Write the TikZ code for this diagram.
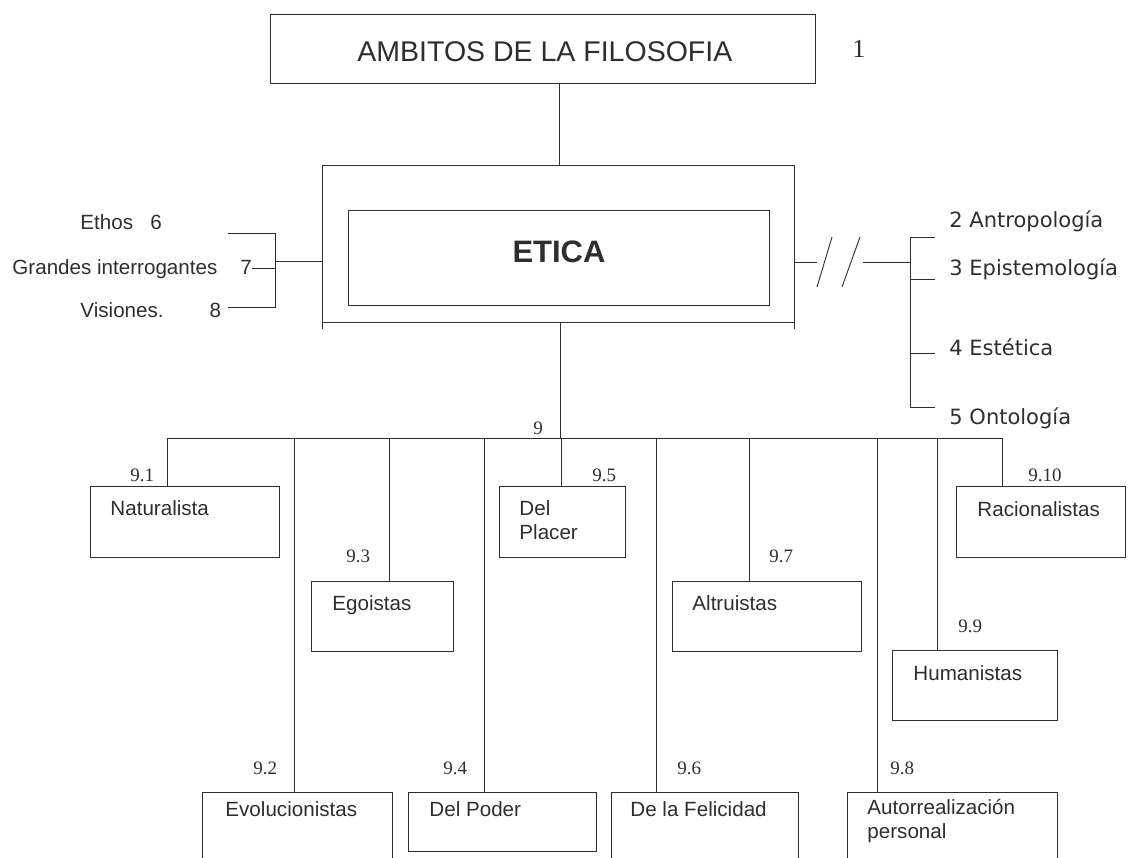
\documentclass[tikz,border=0pt]{standalone}
\usepackage{fontspec}
\setmainfont{Liberation Sans}
\newfontfamily\serifnum{Liberation Serif}
\newfontfamily\verdanaish{DejaVu Sans}

\definecolor{ink}{gray}{0.18}

\tikzset{
  box/.style={draw, rectangle, inner sep=0pt, anchor=north west},
  txt/.style={anchor=base west, inner sep=0pt, align=left, font=\fontsize{20.6}{24}\selectfont},
  num/.style={anchor=base west, inner sep=0pt, font=\serifnum\fontsize{19}{22}\selectfont},
  side/.style={anchor=base west, inner sep=0pt, font=\verdanaish\fontsize{21}{24}\selectfont},
}

\begin{document}
\begin{tikzpicture}[x=1pt,y=-1pt,line width=0.9pt,color=ink]
   \useasboundingbox (0,0) rectangle (1135,857);
   \clip (0,0) rectangle (1135,857);

   \node[box, minimum width=545pt, minimum height=69pt] (amb) at (270,14) {};
   \node[txt, font=\fontsize{28.5}{32}\selectfont] (ambT) at (357,61) {AMBITOS DE LA FILOSOFIA};
   \node[num, font=\serifnum\fontsize{26}{30}\selectfont] (n1) at (852,57) {1};

   \node[box, minimum width=472pt, minimum height=157pt] (eticaO) at (322,165) {};
   \node[box, minimum width=421pt, minimum height=95pt] (etica) at (348,210) {};
   \node[inner sep=0pt, font=\bfseries\fontsize{31}{36}\selectfont] (eticaT) at (559,252) {ETICA};

   \draw (amb.south -| 559,0) -- (eticaO.north -| 559,0);
   \draw (eticaO.south west) -- ++(0,6);
   \draw (eticaO.south east) -- ++(0,6);

   \node[txt] (ethos) at (80,229) {Ethos~~~6};
   \node[txt] (grandes) at (12,274) {Grandes interrogantes~~~~7};
   \node[txt] (visiones) at (80,317) {Visiones.\hspace{46pt}8};

   \coordinate (lbt) at (228,233);
   \coordinate (lbb) at (228,307);
   \coordinate (lb) at (275,261);
   \draw (lbt) -- (lbt -| lb) -- (lbb -| lb) -- (lbb);
   \draw (lb) -- (lb -| eticaO.west);
   \draw (grandes.east) -- (grandes.east -| lb);

   \coordinate (brk1) at (817,262);
   \coordinate (brk2) at (863,262);
   \coordinate (rb) at (910,262);
   \draw (eticaO.east |- brk1) -- (brk1);
   \draw (817,287) -- (832,237);
   \draw (842,287) -- (860,237);
   \draw (brk2) -- (rb);

   \coordinate (r2) at (910,237);
   \coordinate (r3) at (910,279);
   \coordinate (r4) at (910,353);
   \coordinate (r5) at (910,407);
   \draw (r2) -- (r5);
   \foreach \r in {r2,r3,r4,r5}
      \draw (\r) -- ++(25,0);

   \node[side] (antro) at (949,227) {2 Antropología};
   \node[side] (episte) at (949,275) {3 Epistemología};
   \node[side] (estet) at (949,355) {4 Estética};
   \node[side] (onto) at (949,424) {5 Ontología};

   \node[box, minimum width=189pt, minimum height=71pt] (nat) at (90,486) {};
   \node[box, minimum width=142pt, minimum height=70pt] (ego) at (311,581) {};
   \node[box, minimum width=126pt, minimum height=71pt] (placer) at (499,486) {};
   \node[box, minimum width=189pt, minimum height=70pt] (altru) at (672,581) {};
   \node[box, minimum width=169pt, minimum height=71pt] (racio) at (956,486) {};
   \node[box, minimum width=165pt, minimum height=70pt] (human) at (892,650) {};
   \node[box, minimum width=190pt, minimum height=90pt] (evol) at (202,792) {};
   \node[box, minimum width=188pt, minimum height=59pt] (poder) at (408,792) {};
   \node[box, minimum width=187pt, minimum height=90pt] (felic) at (611,792) {};
   \node[box, minimum width=210pt, minimum height=90pt] (auto) at (847,792) {};

   \node[txt] (natT) at (110,515) {Naturalista};
   \node[txt] (egoT) at (332,610) {Egoistas};
   \node[txt] (placerT) at (519,539) {Del\\Placer};
   \node[txt] (altruT) at (692,610) {Altruistas};
   \node[txt] (racioT) at (977,516) {Racionalistas};
   \node[txt] (humanT) at (913,680) {Humanistas};
   \node[txt] (evolT) at (225,816) {Evolucionistas};
   \node[txt] (poderT) at (429,816) {Del Poder};
   \node[txt] (felicT) at (630,816) {De la Felicidad};
   \node[txt] (autoT) at (867,838) {Autorrealización\\personal};

   \coordinate (b0) at (560,438);
   \coordinate (b1) at (167,438);
   \coordinate (b2) at (294,438);
   \coordinate (b3) at (389,438);
   \coordinate (b4) at (484,438);
   \coordinate (b5) at (561,438);
   \coordinate (b6) at (656,438);
   \coordinate (b7) at (749,438);
   \coordinate (b8) at (877,438);
   \coordinate (b9) at (937,438);
   \coordinate (b10) at (1002,438);

   \draw (eticaO.south -| b0) -- (b0);
   \draw (b1) -- (b10);
   \draw (b1) -- (b1 |- nat.north);
   \draw (b2) -- (b2 |- evol.north);
   \draw (b3) -- (b3 |- ego.north);
   \draw (b4) -- (b4 |- poder.north);
   \draw (b5) -- (b5 |- placer.north);
   \draw (b6) -- (b6 |- felic.north);
   \draw (b7) -- (b7 |- altru.north);
   \draw (b8) -- (b8 |- auto.north);
   \draw (b9) -- (b9 |- human.north);
   \draw (b10) -- (b10 |- racio.north);

   \node[num] (n9) at (533,434) {9};
   \node[num] (n91) at (130,481) {9.1};
   \node[num] (n92) at (253,774) {9.2};
   \node[num] (n93) at (346,562) {9.3};
   \node[num] (n94) at (443,774) {9.4};
   \node[num] (n95) at (592,481) {9.5};
   \node[num] (n96) at (677,774) {9.6};
   \node[num] (n97) at (769,562) {9.7};
   \node[num] (n98) at (890,774) {9.8};
   \node[num] (n99) at (958,632) {9.9};
   \node[num] (n910) at (1028,481) {9.10};

\end{tikzpicture}
\end{document}
